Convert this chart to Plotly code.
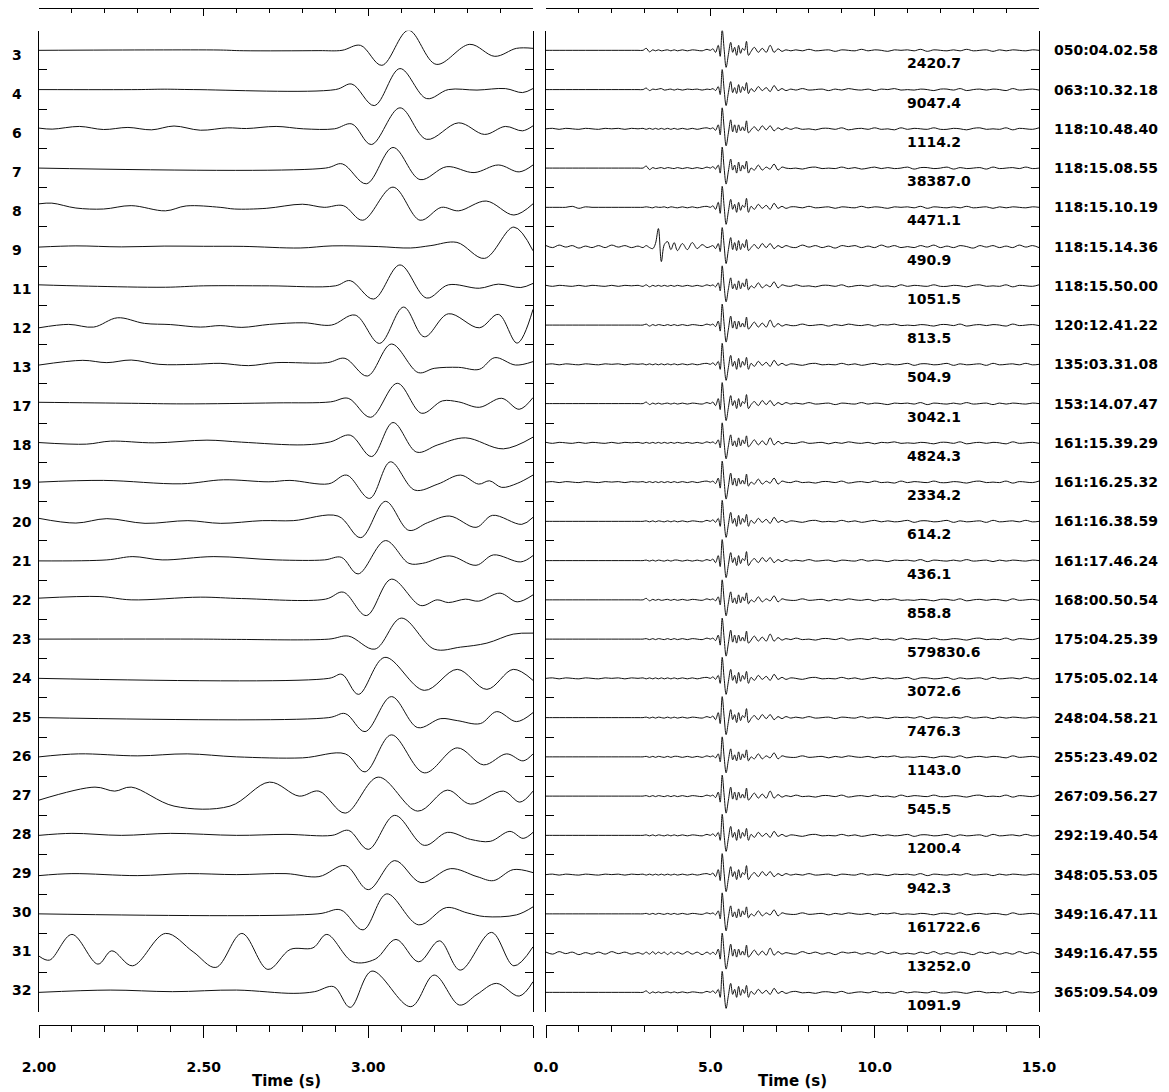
import plotly.graph_objects as go

W, H = 1169, 1092
ROW_PX = 39.25          # vertical pixels per trace row (amplitudes below are in px)

# ---------------- labels ----------------
LEFT_LABELS = ["3", "4", "6", "7", "8", "9", "11", "12", "13", "17", "18", "19", "20",
               "21", "22", "23", "24", "25", "26", "27", "28", "29", "30", "31", "32"]
DATES = ["050:04.02.58", "063:10.32.18", "118:10.48.40", "118:15.08.55", "118:15.10.19",
         "118:15.14.36", "118:15.50.00", "120:12.41.22", "135:03.31.08", "153:14.07.47",
         "161:15.39.29", "161:16.25.32", "161:16.38.59", "161:17.46.24", "168:00.50.54",
         "175:04.25.39", "175:05.02.14", "248:04.58.21", "255:23.49.02", "267:09.56.27",
         "292:19.40.54", "348:05.53.05", "349:16.47.11", "349:16.47.55", "365:09.54.09"]
AMPS = [2420.7, 9047.4, 1114.2, 38387.0, 4471.1, 490.9, 1051.5, 813.5, 504.9, 3042.1,
        4824.3, 2334.2, 614.2, 436.1, 858.8, 579830.6, 3072.6, 7476.3, 1143.0, 545.5,
        1200.4, 942.3, 161722.6, 13252.0, 1091.9]

LEFT_RANGE = [2.0, 3.5]
RIGHT_RANGE = [0.0, 15.0]

# ---------------- left panel: (time s, amplitude px) key points ----------------
L03 = [(2.0,0),(2.35,0.4),(2.55,0.3),(2.62,-0.4),(2.85,-0.3),(2.92,0),(2.976,5),(3.041,-15),(3.122,20),(3.206,-14),(3.308,6),(3.384,-6),(3.45,2),(3.5,2)]
L04 = [(2.0,0),(2.3,0),(2.38,0.4),(2.47,0),(2.9,0),(2.95,5.5),(3.018,-16),(3.096,21),(3.177,-9),(3.243,0),(3.33,-0.5),(3.416,1),(3.468,-3),(3.5,1)]
L06 = [(2.0,0.7),(2.04,-0.3),(2.123,2.4),(2.196,-0.7),(2.27,1.4),(2.342,-1),(2.41,2.8),(2.49,-1.4),(2.573,1),(2.63,0.3),(2.72,2.4),(2.803,0),(2.897,0),(2.95,4.9),(3.009,-15.7),(3.096,21),(3.177,-10.5),(3.274,6),(3.353,-5.6),(3.416,2.4),(3.468,-2),(3.5,3)]
L07 = [(2.0,0),(2.87,0),(2.921,4.2),(2.994,-15.7),(3.075,20.6),(3.157,-11.5),(3.238,1.4),(3.321,-4.5),(3.395,3.1),(3.458,-3.8),(3.5,3.1)]
L08 = [(2.0,3.5),(2.039,4.2),(2.112,-0.7),(2.196,-1.7),(2.28,1.7),(2.384,-3.5),(2.447,1.4),(2.55,0),(2.594,-1.7),(2.69,-1),(2.8,3.1),(2.866,0),(2.924,1.7),(2.983,-12.9),(3.075,20.2),(3.157,-12.9),(3.222,0),(3.274,-3.5),(3.358,6.3),(3.442,-7.7),(3.5,3.5)]
L09 = [(2.0,-0.5),(2.112,0.7),(2.25,-0.3),(2.38,0.5),(2.5,0.3),(2.62,0.2),(2.793,-1.4),(2.89,0.7),(3.03,0),(3.128,-1.4),(3.19,1),(3.269,4.2),(3.353,-11.8),(3.442,19.5),(3.5,-4.2)]
L11 = [(2.0,1),(2.15,-0.3),(2.384,-1.4),(2.5,0),(2.7,0),(2.9,0),(2.945,5.2),(3.016,-13.2),(3.096,20.9),(3.177,-12.2),(3.243,1),(3.337,-2.4),(3.395,1.7),(3.463,-1.7),(3.5,2.4)]
L12 = [(2.0,-2.7),(2.09,0.7),(2.166,-2),(2.238,7.3),(2.32,1.7),(2.4,0.5),(2.49,-2),(2.55,-0.5),(2.616,-2.3),(2.7,0.7),(2.804,2.3),(2.888,0),(2.96,10),(3.034,-18.3),(3.107,18),(3.17,-11.7),(3.243,11.3),(3.337,-2.7),(3.395,10.7),(3.452,-18),(3.5,15.7)]
L13 = [(2.0,-0.7),(2.133,4),(2.206,1.7),(2.28,4.3),(2.364,0),(2.47,0),(2.55,1),(2.636,-1.3),(2.72,1.7),(2.876,1.7),(2.929,6),(2.997,-11.7),(3.07,20.3),(3.152,-8.3),(3.2,-4),(3.274,-3),(3.337,-5),(3.384,6.7),(3.447,-0.7),(3.5,2.7)]
L17 = [(2.0,1.3),(2.28,0.3),(2.44,-0.3),(2.72,0.7),(2.885,1.7),(2.939,5.3),(3.007,-13.7),(3.088,20.3),(3.162,-9.7),(3.225,2.7),(3.274,1.7),(3.337,-3.7),(3.405,5.3),(3.458,-5.7),(3.5,6)]
L18 = [(2.0,0.3),(2.144,-1.3),(2.217,1.7),(2.35,0),(2.51,2.7),(2.615,0.7),(2.804,-2),(2.885,1),(2.945,7.7),(3.01,-13.7),(3.075,20.3),(3.147,-9.3),(3.211,-2),(3.295,5),(3.41,-6),(3.5,5.7)]
L19 = [(2.0,0),(2.196,1.7),(2.433,-1.7),(2.56,2.3),(2.698,0.3),(2.762,1.7),(2.88,-1.7),(2.934,7),(3.004,-16.3),(3.067,20.3),(3.141,-8),(3.211,-2),(3.28,7),(3.335,-2),(3.368,1.3),(3.405,-5.3),(3.452,-1.3),(3.5,7)]
L20 = [(2.0,3),(2.112,-1.7),(2.206,2.7),(2.322,-2),(2.452,0.7),(2.552,-2),(2.678,0.7),(2.772,0.7),(2.908,5.3),(2.977,-16.3),(3.052,20),(3.123,-9),(3.18,-1.3),(3.247,5.3),(3.327,-6),(3.377,6),(3.466,-3),(3.5,4)]
L21 = [(2.0,-0.3),(2.206,0.7),(2.285,4),(2.374,0.7),(2.531,4),(2.72,0.7),(2.867,0.7),(2.918,3.3),(2.969,-13.3),(3.052,20),(3.123,-2.7),(3.165,-2.7),(3.247,4.7),(3.327,-4.7),(3.38,5.7),(3.463,-1.3),(3.5,5)]
L22 = [(2.0,1.7),(2.185,3.3),(2.28,0),(2.49,2.7),(2.615,1.3),(2.87,0.7),(2.924,7.7),(2.994,-15.7),(3.07,20.7),(3.159,-5.7),(3.209,0),(3.243,-2.7),(3.295,0.7),(3.335,-1.3),(3.4,6.7),(3.452,-2),(3.5,5)]
L23 = [(2.0,0),(2.5,0),(2.6,-0.3),(2.88,0),(2.94,3),(3.02,-10),(3.1,21),(3.2,-10),(3.28,-8),(3.36,-4),(3.44,5),(3.5,6)]
L24 = [(2.0,0),(2.88,0),(2.92,4),(2.97,-16),(3.05,21),(3.17,-12),(3.27,9),(3.36,-11),(3.44,9),(3.5,-2)]
L25 = [(2.0,0),(2.88,0),(2.93,4),(2.99,-14),(3.07,21),(3.15,-10),(3.22,-1),(3.27,-3),(3.34,-6),(3.39,6),(3.45,-4),(3.5,5)]
L26 = [(2.0,0),(2.12,3),(2.3,1),(2.45,3),(2.6,0),(2.8,-1),(2.93,3),(2.99,-15),(3.07,22),(3.17,-16),(3.27,9),(3.35,-8),(3.42,3),(3.47,-4),(3.5,3)]
L27 = [(2.0,-4),(2.17,9),(2.23,5),(2.28,9),(2.41,-10),(2.58,-10),(2.7,14),(2.79,0),(2.85,5),(2.93,-17),(3.03,19),(3.15,-15),(3.24,6),(3.31,-8),(3.41,5),(3.46,-6),(3.5,5)]
L28 = [(2.0,0),(2.1,2),(2.25,0),(2.4,2),(2.6,0),(2.75,1),(2.89,0),(2.94,5),(3.0,-14),(3.08,20),(3.17,-10),(3.24,3),(3.31,-4),(3.37,-6),(3.43,4),(3.47,-3),(3.5,3)]
L29 = [(2.0,-1),(2.1,1),(2.3,-1),(2.45,1),(2.6,0),(2.75,1),(2.85,-2),(2.93,9),(3.0,-15),(3.08,14),(3.16,-8),(3.25,6),(3.33,-2),(3.38,-6),(3.44,5),(3.5,2)]
L30 = [(2.0,0),(2.847,0),(2.916,4),(2.984,-16),(3.056,20),(3.153,-11),(3.237,6.3),(3.3,1),(3.353,-2.7),(3.45,-1),(3.5,7)]
L31 = [(2.0,-3),(2.032,-7),(2.1,18.7),(2.179,-11),(2.221,2.3),(2.284,-12.7),(2.384,19.7),(2.468,1.3),(2.537,-14.3),(2.616,19.7),(2.695,-16.3),(2.763,3.7),(2.832,5.3),(2.874,18.7),(2.953,-8.7),(3.021,-6),(3.084,13.7),(3.153,-8.7),(3.216,12.3),(3.279,-17),(3.374,20.7),(3.442,-12.7),(3.5,6.3)]
L32 = [(2.0,0),(2.216,2.3),(2.405,0.7),(2.6,2.3),(2.774,-1),(2.837,0.7),(2.895,5.7),(2.945,-15),(3.011,21.3),(3.129,-14.3),(3.2,17.3),(3.277,-12.7),(3.33,-2),(3.389,9),(3.458,-3.7),(3.5,10.7)]

LEFT_TRACES = [L03, L04, L06, L07, L08, L09, L11, L12, L13, L17, L18, L19, L20,
               L21, L22, L23, L24, L25, L26, L27, L28, L29, L30, L31, L32]

# ---------------- right panel: shared time grid (segments) and amplitudes (px) ----------------
RT = [
    [0.0, 0.2, 0.4, 0.6, 0.8, 1.0, 1.2, 1.4, 1.6, 1.8, 2.0, 2.2, 2.4, 2.6, 2.8],
    [2.95, 3.05, 3.15, 3.25, 3.33, 3.42, 3.51, 3.6, 3.7, 3.8, 3.9],
    [4.0, 4.15, 4.3, 4.45, 4.6, 4.75, 4.9],
    [5.0, 5.08, 5.16, 5.24, 5.3, 5.36, 5.42, 5.48, 5.55, 5.62, 5.68, 5.74, 5.8, 5.86, 5.92, 5.98, 6.04, 6.1, 6.16],
    [6.24, 6.34, 6.46, 6.58, 6.7, 6.82, 6.94, 7.06, 7.18, 7.3, 7.45],
    [7.6, 7.8, 8.0, 8.2, 8.4, 8.6, 8.8, 9.0, 9.2, 9.4, 9.6, 9.8, 10.0, 10.2, 10.4, 10.6, 10.8, 11.0, 11.2,
     11.4, 11.6, 11.8, 12.0, 12.2, 12.4, 12.6, 12.8, 13.0, 13.2, 13.4, 13.6, 13.8, 14.0, 14.2, 14.4, 14.6, 14.8, 15.0],
]

R01 = [[0,0,0,0,0,0,0,0,0,0,0,0,0,0,0],
       [0,2,-1.5,0.5,-0.5,0.5,-0.5,0,0.5,-0.5,0.5],
       [-0.5,0.5,-0.5,0.5,0,-0.5,1],
       [0,1.5,-2,5,-6,21,1,-17,-4,8,-2,3,-5,5,-3,2,0,9,-5],
       [-1,3,-2,2,-2,5,-2,1.5,-1,0.5,-0.5],
       [0.5,-0.5,1,-0.5,0,0.5,-1,0.5,0,-0.5,1,-0.5,0.5,0,-1,0.5,0,0.5,-0.5,1,-1,0.5,0,-0.5,0.5,-0.5,1,-0.5,0,0.5,-1,0.5,-0.5,0.5,0,-0.5,0.5,0]]
R02 = [[0,0,0,0,0,0,0,0,0,0,0,0,0,0,0],
       [0,1.5,-1,0.5,0,0.5,1,-0.5,0,0.5,-0.5],
       [0.5,-0.5,0.5,0,0.5,-0.5,0.5],
       [0,1,-1,3,-5,20,0,-16,-3,8,-3,2,-4,5,-3,3,-1,7,-4],
       [1,-2,3,-1,2,-2,4,-1,1,-1,0.5],
       [-0.5,1,-0.5,0,0.5,-1,0.5,-0.5,1,0,-0.5,0.5,-1,0.5,0,1,-0.5,0,-0.5,0.5,0,-1,0.5,0.5,-0.5,1,-1,0,0.5,-0.5,0.5,0,-1,1,-0.5,0,0.5,-0.5]]
R03 = [[0,0.5,-0.5,0.5,0,-0.5,0.5,0,-0.5,0.5,0,0.5,-0.5,0.5,0],
       [0.5,-0.5,0.5,-0.5,0.5,-0.5,0.5,-0.5,0.5,-0.5,0.5],
       [-0.5,0.5,-0.5,0.5,-0.5,0.5,1],
       [0,1,-1.5,4,-6,21,1,-17,-4,9,-3,4,-4,4,-2,2,-2,8,-4],
       [-1,2,-2,3,-1,3,-2,1,-1,1,-0.5],
       [1,-0.5,0,-1,0.5,0.5,-0.5,1,-1,0,0.5,-0.5,1,-0.5,0,-1,1,-0.5,0.5,0,-0.5,1,-0.5,-0.5,0.5,0,-1,0.5,1,-0.5,0,-0.5,1,-1,0.5,0,-0.5,1]]
R04 = [[0,0,0,0,0,0,0,0,0,0,0,0,0,0,0],
       [0,2,-1.5,0.5,-0.5,0,0.5,-0.5,0.5,0,-0.5],
       [0.5,-0.5,0.5,-0.5,0.5,-0.5,1],
       [0,1.5,-1,3,-5,21,0,-16,-3,9,-2,3,-5,6,-3,3,-1,7,-5],
       [0,-2,3,-2,1,-1,4,-2,1,0,-0.5],
       [0,-1,0.5,1,-0.5,0,-0.5,1,-0.5,0.5,-1,0,1,-0.5,0.5,-0.5,0,1,-1,0.5,0.5,-0.5,0,1,-1,0.5,-0.5,0,0.5,-1,1,-0.5,0,0.5,-0.5,1,-0.5,0]]
R05 = [[0,0,0,0,1,-1,0.5,0,0,0,0,0,0,0,0],
       [0,0.5,0,-0.5,0.5,0,0,0.5,-0.5,0.5,0],
       [-0.5,0.5,-0.5,0.5,-0.5,0.5,1],
       [0,1.5,-2,5,-6,21,1,-17,-4,8,-2,3,-5,5,-3,2,0,9,-5],
       [1,-2,3,-1,2,-2,4,-1,1,-1,0.5],
       [0.5,-0.5,1,-0.5,0,0.5,-1,0.5,0,-0.5,1,-0.5,0.5,0,-1,0.5,0,0.5,-0.5,1,-1,0.5,0,-0.5,0.5,-0.5,1,-0.5,0,0.5,-1,0.5,-0.5,0.5,0,-0.5,0.5,0]]
R06 = [[1,-1,1.5,-0.5,1,-1.5,0.5,-1,1,-1,1.5,-0.5,1,-1,0.5],
       [-1,1,-1,-2,3,18,-15,2,5,-3,4],
       [-4,3,-3,4,-2,2,-1],
       [0,1,-2,3,-5,19,1,-17,-3,9,-3,4,-4,6,-3,3,-1,7,-4],
       [-1,2,-2,3,-1,3,-2,1,-1,1,-0.5],
       [-1,1.5,-0.5,1,-1,0.5,-1.5,1,0,1,-1,0.5,-1,1.5,-0.5,1,-1,0,-1,1,-0.5,1.5,-1,0.5,-1,1,0,-1.5,1,-0.5,1,-1,0.5,-1,1.5,-0.5,1,-1]]
R07 = [[0.5,-0.5,0.5,0,-0.5,0.5,-0.5,0.5,0,-0.5,0.5,-0.5,0.5,0,0.5],
       [-0.5,1,-1,0.5,-0.5,0.5,-0.5,0.5,-0.5,0.5,-0.5],
       [0.5,-0.5,0.5,-0.5,0.5,-0.5,1],
       [0,1,-1,3,-5,20,0,-16,-3,8,-3,2,-4,5,-3,3,-1,7,-4],
       [0,-2,3,-2,1,-1,4,-2,1,0,-0.5],
       [1,-0.5,0,-1,0.5,0.5,-0.5,1,-1,0,0.5,-0.5,1,-0.5,0,-1,1,-0.5,0.5,0,-0.5,1,-0.5,-0.5,0.5,0,-1,0.5,1,-0.5,0,-0.5,1,-1,0.5,0,-0.5,1]]
R08 = [[0,0,0,0,0,0,0,0,0,0,0,0,0,0,0],
       [0,1,-1,0.5,-0.5,0.5,0,-0.5,0.5,-0.5,0.5],
       [-0.5,0.5,-0.5,0.5,0,-0.5,1],
       [0,1,-1.5,4,-6,21,1,-17,-4,9,-3,4,-4,4,-2,2,-2,8,-4],
       [-1,3,-2,2,-2,5,-2,1.5,-1,0.5,-0.5],
       [-0.5,1,-0.5,0,0.5,-1,0.5,-0.5,1,0,-0.5,0.5,-1,0.5,0,1,-0.5,0,-0.5,0.5,0,-1,0.5,0.5,-0.5,1,-1,0,0.5,-0.5,0.5,0,-1,1,-0.5,0,0.5,-0.5]]
R09 = [[0,0.5,-0.5,0.5,0,-0.5,0.5,0,-0.5,0.5,0,0.5,-0.5,0.5,0],
       [0.5,-0.5,0.5,-0.5,0.5,-0.5,0.5,-0.5,0.5,-0.5,0.5],
       [-0.5,0.5,-0.5,0.5,-0.5,0.5,1],
       [0,1.5,-1,3,-5,21,0,-16,-3,9,-2,3,-5,6,-3,3,-1,7,-5],
       [1,-2,3,-1,2,-2,4,-1,1,-1,0.5],
       [0,-1,0.5,1,-0.5,0,-0.5,1,-0.5,0.5,-1,0,1,-0.5,0.5,-0.5,0,1,-1,0.5,0.5,-0.5,0,1,-1,0.5,-0.5,0,0.5,-1,1,-0.5,0,0.5,-0.5,1,-0.5,0]]
R10 = [[0,0,0,0,0,0,0,0,0,0,0,0,0,0,0],
       [0,1.5,-1,0.5,-0.5,0.5,-0.5,0,0.5,-0.5,0.5],
       [-0.5,0.5,-0.5,0.5,0,-0.5,1],
       [0,1.5,-2,5,-6,21,1,-17,-4,8,-2,3,-5,5,-3,2,0,9,-5],
       [-1,2,-2,3,-1,3,-2,1,-1,1,-0.5],
       [0.5,-0.5,1,-0.5,0,0.5,-1,0.5,0,-0.5,1,-0.5,0.5,0,-1,0.5,0,0.5,-0.5,1,-1,0.5,0,-0.5,0.5,-0.5,1,-0.5,0,0.5,-1,0.5,-0.5,0.5,0,-0.5,0.5,0]]
R11 = [[0.5,-0.5,0.5,0,-0.5,0.5,-0.5,0.5,0,-0.5,0.5,-0.5,0.5,0,0.5],
       [-0.5,0.5,-0.5,0.5,-0.5,0.5,-0.5,0.5,-0.5,0.5,-0.5],
       [0.5,-0.5,0.5,-0.5,0.5,-0.5,1],
       [0,1,-1,3,-5,20,0,-16,-3,8,-3,2,-4,5,-3,3,-1,7,-4],
       [-1,3,-2,2,-2,5,-2,1.5,-1,0.5,-0.5],
       [-0.5,1,-0.5,0,0.5,-1,0.5,-0.5,1,0,-0.5,0.5,-1,0.5,0,1,-0.5,0,-0.5,0.5,0,-1,0.5,0.5,-0.5,1,-1,0,0.5,-0.5,0.5,0,-1,1,-0.5,0,0.5,-0.5]]
R12 = [[0,0.5,-0.5,0.5,0,-0.5,0.5,0,-0.5,0.5,0,0.5,-0.5,0.5,0],
       [0.5,-0.5,0.5,-0.5,0.5,-0.5,0.5,-0.5,0.5,-0.5,0.5],
       [-0.5,0.5,-0.5,0.5,-0.5,0.5,1],
       [0,1,-1.5,4,-6,21,1,-17,-4,9,-3,4,-4,4,-2,2,-2,8,-4],
       [0,-2,3,-2,1,-1,4,-2,1,0,-0.5],
       [1,-0.5,0,-1,0.5,0.5,-0.5,1,-1,0,0.5,-0.5,1,-0.5,0,-1,1,-0.5,0.5,0,-0.5,1,-0.5,-0.5,0.5,0,-1,0.5,1,-0.5,0,-0.5,1,-1,0.5,0,-0.5,1]]
R13 = [[0,0,0,0,0,0,0,0,0,0,0,0,0,0,0],
       [0,0.5,-0.5,0.5,-0.5,0.5,0,-0.5,0.5,-0.5,0.5],
       [-0.5,0.5,-0.5,0.5,0,-0.5,1],
       [0,1.5,-1,3,-5,21,0,-16,-3,9,-2,3,-5,6,-3,3,-1,7,-5],
       [1,-2,3,-1,2,-2,4,-1,1,-1,0.5],
       [0,-1,0.5,1,-0.5,0,-0.5,1,-0.5,0.5,-1,0,1,-0.5,0.5,-0.5,0,1,-1,0.5,0.5,-0.5,0,1,-1,0.5,-0.5,0,0.5,-1,1,-0.5,0,0.5,-0.5,1,-0.5,0]]
R14 = [[0,0,0,0,0,0,0,0,0,0,0,0,0,0,0],
       [0,0.5,-0.5,0.5,-0.5,0.5,0,-0.5,0.5,-0.5,0.5],
       [0.5,-0.5,0.5,-0.5,0.5,-0.5,1],
       [0,1.5,-2,5,-6,21,1,-17,-4,8,-2,3,-5,5,-3,2,0,9,-5],
       [-1,2,-2,3,-1,3,-2,1,-1,1,-0.5],
       [0.5,-0.5,1,-0.5,0,0.5,-1,0.5,0,-0.5,1,-0.5,0.5,0,-1,0.5,0,0.5,-0.5,1,-1,0.5,0,-0.5,0.5,-0.5,1,-0.5,0,0.5,-1,0.5,-0.5,0.5,0,-0.5,0.5,0]]
R15 = [[0,0,0,0,0,0,0,0,0,0,0,0,0,0,0],
       [0,1.5,-1,0.5,-0.5,0.5,-0.5,0,0.5,-0.5,0.5],
       [-0.5,0.5,-0.5,0.5,0,-0.5,1],
       [0,1,-1,3,-5,20,0,-16,-3,8,-3,2,-4,5,-3,3,-1,7,-4],
       [0,-2,3,-2,1,-1,4,-2,1,0,-0.5],
       [-0.5,1,-0.5,0,0.5,-1,0.5,-0.5,1,0,-0.5,0.5,-1,0.5,0,1,-0.5,0,-0.5,0.5,0,-1,0.5,0.5,-0.5,1,-1,0,0.5,-0.5,0.5,0,-1,1,-0.5,0,0.5,-0.5]]
R16 = [[0,0,0,0,0,0,0,0,0,0,0,0,0,0,0],
       [0,0.5,-0.5,0.5,-0.5,0.5,0,-0.5,0.5,-0.5,0.5],
       [-0.5,0.5,-0.5,0.5,0,-0.5,1],
       [0,1,-1.5,4,-6,21,1,-17,-4,9,-3,4,-4,4,-2,2,-2,8,-4],
       [-1,3,-2,2,-2,5,-2,1.5,-1,0.5,-0.5],
       [1,-0.5,0,-1,0.5,0.5,-0.5,1,-1,0,0.5,-0.5,1,-0.5,0,-1,1,-0.5,0.5,0,-0.5,1,-0.5,-0.5,0.5,0,-1,0.5,1,-0.5,0,-0.5,1,-1,0.5,0,-0.5,1]]
R17 = [[0,0.5,-0.5,0.5,0,-0.5,0.5,0,-0.5,0.5,0,0.5,-0.5,0.5,0],
       [0.5,-0.5,0.5,-0.5,0.5,-0.5,0.5,-0.5,0.5,-0.5,0.5],
       [-0.5,0.5,-0.5,0.5,-0.5,0.5,1],
       [0,1.5,-1,3,-5,21,0,-16,-3,9,-2,3,-5,6,-3,3,-1,7,-5],
       [1,-2,3,-1,2,-2,4,-1,1,-1,0.5],
       [0,-1,0.5,1,-0.5,0,-0.5,1,-0.5,0.5,-1,0,1,-0.5,0.5,-0.5,0,1,-1,0.5,0.5,-0.5,0,1,-1,0.5,-0.5,0,0.5,-1,1,-0.5,0,0.5,-0.5,1,-0.5,0]]
R18 = [[0,0,0,0,0,0,0,0,0,0,0,0,0,0,0],
       [0,0.5,-0.5,0.5,-0.5,0.5,0,-0.5,0.5,-0.5,0.5],
       [-0.5,0.5,-0.5,0.5,0,-0.5,1],
       [0,1.5,-2,5,-6,21,1,-17,-4,8,-2,3,-5,5,-3,2,0,9,-5],
       [-1,2,-2,3,-1,3,-2,1,-1,1,-0.5],
       [0.5,-0.5,1,-0.5,0,0.5,-1,0.5,0,-0.5,1,-0.5,0.5,0,-1,0.5,0,0.5,-0.5,1,-1,0.5,0,-0.5,0.5,-0.5,1,-0.5,0,0.5,-1,0.5,-0.5,0.5,0,-0.5,0.5,0]]
R19 = [[0,0,0,0,0,0,0,0,0,0,0,0,0,0,0],
       [0,0.5,-0.5,0.5,-0.5,0.5,0,-0.5,0.5,-0.5,0.5],
       [0.5,-0.5,0.5,-0.5,0.5,-0.5,1],
       [0,1,-1,3,-5,20,0,-16,-3,8,-3,2,-4,5,-3,3,-1,7,-4],
       [0,-2,3,-2,1,-1,4,-2,1,0,-0.5],
       [-0.5,1,-0.5,0,0.5,-1,0.5,-0.5,1,0,-0.5,0.5,-1,0.5,0,1,-0.5,0,-0.5,0.5,0,-1,0.5,0.5,-0.5,1,-1,0,0.5,-0.5,0.5,0,-1,1,-0.5,0,0.5,-0.5]]
R20 = [[0,0,0,0,0,0,0,0,0,0,0,0,0,0,0],
       [0,0.5,-0.5,0.5,-0.5,0.5,0,-0.5,0.5,-0.5,0.5],
       [-0.5,0.5,-0.5,0.5,0,-0.5,1],
       [0,1,-1.5,4,-6,21,1,-17,-4,9,-3,4,-4,4,-2,2,-2,8,-4],
       [-1,3,-2,2,-2,5,-2,1.5,-1,0.5,-0.5],
       [1,-0.5,0,-1,0.5,0.5,-0.5,1,-1,0,0.5,-0.5,1,-0.5,0,-1,1,-0.5,0.5,0,-0.5,1,-0.5,-0.5,0.5,0,-1,0.5,1,-0.5,0,-0.5,1,-1,0.5,0,-0.5,1]]
R21 = [[0,0,0,0,0,0,0,0,0,0,0,0,0,0,0],
       [0,0.5,-0.5,0.5,-0.5,0.5,0,-0.5,0.5,-0.5,0.5],
       [-0.5,0.5,-0.5,0.5,0,-0.5,1],
       [0,1.5,-1,3,-5,21,0,-16,-3,9,-2,3,-5,6,-3,3,-1,7,-5],
       [1,-2,3,-1,2,-2,4,-1,1,-1,0.5],
       [0,-1,0.5,1,-0.5,0,-0.5,1,-0.5,0.5,-1,0,1,-0.5,0.5,-0.5,0,1,-1,0.5,0.5,-0.5,0,1,-1,0.5,-0.5,0,0.5,-1,1,-0.5,0,0.5,-0.5,1,-0.5,0]]
R22 = [[0,0.5,-0.5,0.5,0,-0.5,0.5,0,-0.5,0.5,0,0.5,-0.5,0.5,0],
       [0.5,-0.5,0.5,-0.5,0.5,-0.5,0.5,-0.5,0.5,-0.5,0.5],
       [-0.5,0.5,-0.5,0.5,-0.5,0.5,1],
       [0,1.5,-2,5,-6,21,1,-17,-4,8,-2,3,-5,5,-3,2,0,9,-5],
       [-1,2,-2,3,-1,3,-2,1,-1,1,-0.5],
       [0.5,-0.5,1,-0.5,0,0.5,-1,0.5,0,-0.5,1,-0.5,0.5,0,-1,0.5,0,0.5,-0.5,1,-1,0.5,0,-0.5,0.5,-0.5,1,-0.5,0,0.5,-1,0.5,-0.5,0.5,0,-0.5,0.5,0]]
R23 = [[0,0,0,0,0,0,0,0,0,0,0,0,0,0,0],
       [0,0.5,-0.5,0.5,-0.5,0.5,0,-0.5,0.5,-0.5,0.5],
       [-0.5,0.5,-0.5,0.5,0,-0.5,1],
       [0,1,-1,3,-5,21,0,-17,-3,8,-3,2,-4,5,-3,3,-1,7,-4],
       [0,-2,3,-2,1,-1,4,-2,1,0,-0.5],
       [-0.5,1,-0.5,0,0.5,-1,0.5,-0.5,1,0,-0.5,0.5,-1,0.5,0,1,-0.5,0,-0.5,0.5,0,-1,0.5,0.5,-0.5,1,-1,0,0.5,-0.5,0.5,0,-1,1,-0.5,0,0.5,-0.5]]
R24 = [[1,-1,1.5,-0.5,1,-1.5,0.5,-1,1,-1,1.5,-0.5,1,-1,0.5],
       [-1,1,-1,1.5,-1,1,-0.5,1,-1.5,1,-1],
       [1,-1,1.5,-1,1,-1.5,1],
       [-1,1,-1.5,4,-6,20,1,-16,-4,9,-3,4,-4,4,-2,2,-2,8,-4],
       [-1,3,-2,2,-2,5,-2,1.5,-1,0.5,-0.5],
       [-1,1.5,-0.5,1,-1,0.5,-1.5,1,0,1,-1,0.5,-1,1.5,-0.5,1,-1,0,-1,1,-0.5,1.5,-1,0.5,-1,1,0,-1.5,1,-0.5,1,-1,0.5,-1,1.5,-0.5,1,-1]]
R25 = [[0,0,0,0,0,0,0,0,0,0,0,0,0,0,0],
       [0,1.5,-1,0.5,-0.5,0.5,-0.5,0,0.5,-0.5,0.5],
       [-0.5,0.5,-0.5,0.5,0,-0.5,1],
       [0,1.5,-1,3,-5,21,0,-16,-3,9,-2,3,-5,6,-3,3,-1,7,-5],
       [1,-2,3,-1,2,-2,4,-1,1,-1,0.5],
       [1,-0.5,0,-1,0.5,0.5,-0.5,1,-1,0,0.5,-0.5,1,-0.5,0,-1,1,-0.5,0.5,0,-0.5,1,-0.5,-0.5,0.5,0,-1,0.5,1,-0.5,0,-0.5,1,-1,0.5,0,-0.5,1]]

RIGHT_TRACES = [R01, R02, R03, R04, R05, R06, R07, R08, R09, R10, R11, R12, R13,
                R14, R15, R16, R17, R18, R19, R20, R21, R22, R23, R24, R25]

# ---------------- build figure ----------------
N = len(LEFT_LABELS)
LINE = dict(color="#111111", width=1, shape="spline", smoothing=1.0)

fig = go.Figure()

for k, pts in enumerate(LEFT_TRACES):
    base = N - 1 - k
    fig.add_trace(go.Scatter(
        x=[p[0] for p in pts], y=[base + p[1] / ROW_PX for p in pts],
        mode="lines", line=LINE, xaxis="x", yaxis="y",
        hoverinfo="skip", showlegend=False))

for k, segs in enumerate(RIGHT_TRACES):
    base = N - 1 - k
    xs, ys = [], []
    for s, (ts, vs) in enumerate(zip(RT, segs)):
        if len(ts) != len(vs):
            raise ValueError(f"row {k+1} segment {s}: {len(vs)} values for {len(ts)} times")
        xs += ts
        ys += [base + v / ROW_PX for v in vs]
    fig.add_trace(go.Scatter(
        x=xs, y=ys, mode="lines", line=LINE, xaxis="x2", yaxis="y2",
        hoverinfo="skip", showlegend=False))

# carrier traces so the detached top axes get drawn
fig.add_trace(go.Scatter(x=LEFT_RANGE, y=[None, None], mode="lines", xaxis="x3", yaxis="y",
                         hoverinfo="skip", showlegend=False))
fig.add_trace(go.Scatter(x=RIGHT_RANGE, y=[None, None], mode="lines", xaxis="x4", yaxis="y2",
                         hoverinfo="skip", showlegend=False))

FONT = "DejaVu Sans"
TICKFONT = dict(family=FONT, size=14, color="black", weight="bold")
LX = [39 / W, 533 / W]
RX = [546 / W, 1039 / W]
YD = [1 - 1012 / H, 1 - 30.7 / H]
BOTTOM_POS = 1 - 1025 / H
TOP_POS = 1 - 7.5 / H

def bottom_axis(domain, rng, dtick, minor_dtick, fmt, alias):
    return dict(domain=domain, range=rng, anchor="free", position=BOTTOM_POS,
                showline=True, linecolor="black", linewidth=1,
                showgrid=False, zeroline=False,
                tickmode="linear", tick0=rng[0], dtick=dtick, tickformat=fmt,
                labelalias=alias,
                ticks="outside", ticklen=12, tickwidth=1, tickcolor="black",
                minor=dict(tickmode="linear", tick0=rng[0], dtick=minor_dtick,
                           ticks="outside", ticklen=6, tickwidth=1, tickcolor="black",
                           showgrid=False),
                tickfont=TICKFONT, ticklabelstandoff=17, automargin=False)

def top_axis(domain, rng, dtick, minor_dtick, over):
    return dict(domain=domain, range=rng, overlaying=over, side="top",
                anchor="free", position=TOP_POS,
                showline=True, linecolor="black", linewidth=1,
                showgrid=False, zeroline=False, showticklabels=False,
                tickmode="linear", tick0=rng[0], dtick=dtick,
                ticks="inside", ticklen=7, tickwidth=1, tickcolor="black",
                minor=dict(tickmode="linear", tick0=rng[0], dtick=minor_dtick,
                           ticks="inside", ticklen=4, tickwidth=1, tickcolor="black",
                           showgrid=False),
                automargin=False)

def row_axis(anchor):
    return dict(domain=YD, range=[-0.5, N - 0.5], anchor=anchor,
                showline=True, mirror="ticks", linecolor="black", linewidth=1,
                showgrid=False, zeroline=False, showticklabels=False,
                tickmode="linear", tick0=-0.5, dtick=1,
                ticks="inside", ticklen=8, tickwidth=1, tickcolor="black",
                automargin=False)

annotations = []
for k, lab in enumerate(LEFT_LABELS):
    base = N - 1 - k
    drop_px = 4.7 - 0.3 * k          # row numbers sit slightly below their trace
    annotations.append(dict(text=lab, xref="paper", yref="y", x=10 / W, y=base - drop_px / ROW_PX,
                            xanchor="left", yanchor="middle", showarrow=False,
                            font=dict(family=FONT, size=14, color="black", weight="bold")))
for k, (d, a) in enumerate(zip(DATES, AMPS)):
    base = N - 1 - k
    annotations.append(dict(text=d, xref="paper", yref="y2", x=1052 / W, y=base,
                            xanchor="left", yanchor="middle", showarrow=False,
                            font=dict(family=FONT, size=14, color="black", weight="bold")))
    annotations.append(dict(text=f"{a:.1f}", xref="x2", yref="y2", x=10.92, y=base - 13 / ROW_PX,
                            xanchor="left", yanchor="middle", showarrow=False,
                            font=dict(family=FONT, size=14, color="black", weight="bold")))
for dom in (LX, RX):
    annotations.append(dict(text="Time (s)", xref="paper", yref="paper",
                            x=(dom[0] + dom[1]) / 2, y=1 - 1081 / H,
                            xanchor="center", yanchor="middle", showarrow=False,
                            font=dict(family=FONT, size=15, color="black", weight="bold")))

fig.update_layout(
    width=W, height=H,
    margin=dict(l=0, r=0, t=0, b=0, pad=0),
    paper_bgcolor="white", plot_bgcolor="white",
    showlegend=False,
    xaxis=bottom_axis(LX, LEFT_RANGE, 0.5, 0.1, ".2f", {"3.50": " "}),
    xaxis2=bottom_axis(RX, RIGHT_RANGE, 5.0, 1.0, ".1f", {}),
    xaxis3=top_axis(LX, LEFT_RANGE, 0.5, 0.1, "x"),
    xaxis4=top_axis(RX, RIGHT_RANGE, 5.0, 1.0, "x2"),
    yaxis=row_axis("x"),
    yaxis2=row_axis("x2"),
    annotations=annotations,
)

fig.write_html("out.html")
